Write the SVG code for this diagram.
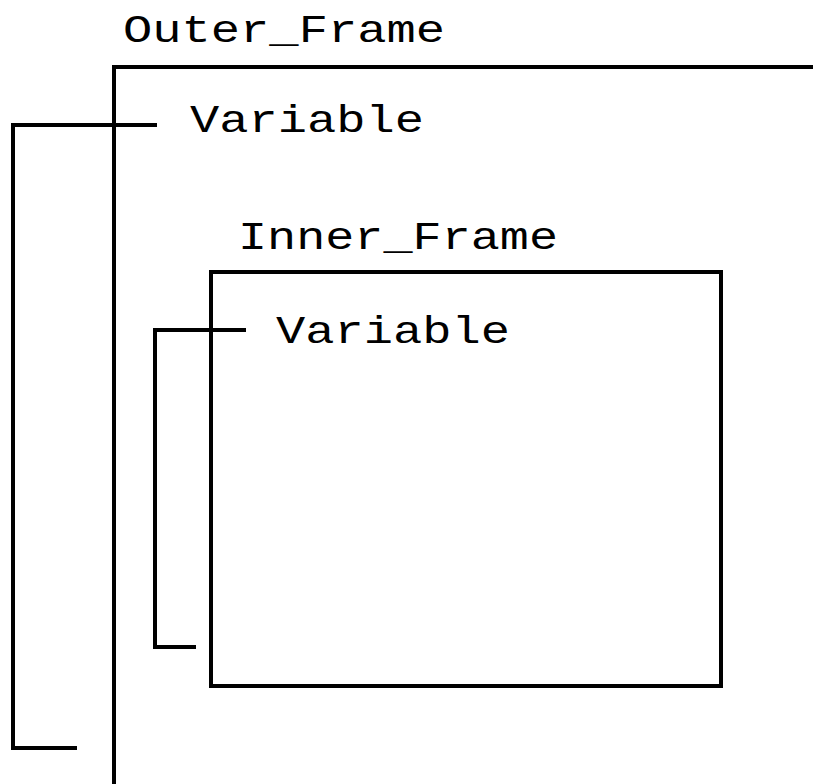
<svg xmlns="http://www.w3.org/2000/svg" width="813" height="784" viewBox="0 0 813 784">
<style>
.ln{fill:none;stroke:#000;stroke-width:4;stroke-linecap:butt;stroke-linejoin:miter}
.t{font-family:"Liberation Mono","Courier New",monospace;font-size:38px;fill:#000}
</style>
<rect width="813" height="784" fill="#fff"/>
<g id="outer_frame">
<polyline class="ln" points="114,784 114,67 813,67"/>
<text class="t" x="123" y="42" textLength="322" lengthAdjust="spacingAndGlyphs">Outer_Frame</text>
<text class="t" x="190" y="132" textLength="234" lengthAdjust="spacingAndGlyphs">Variable</text>
</g>
<g id="inner_frame">
<rect class="ln" x="211" y="272" width="510" height="414"/>
<text class="t" x="238" y="249" textLength="320" lengthAdjust="spacingAndGlyphs">Inner_Frame</text>
<text class="t" x="276" y="343" textLength="234" lengthAdjust="spacingAndGlyphs">Variable</text>
</g>
<g id="connectors">
<polyline class="ln" points="157,125 13,125 13,748 77,748"/>
<polyline class="ln" points="246,330 155,330 155,647 196,647"/>
</g>
</svg>
